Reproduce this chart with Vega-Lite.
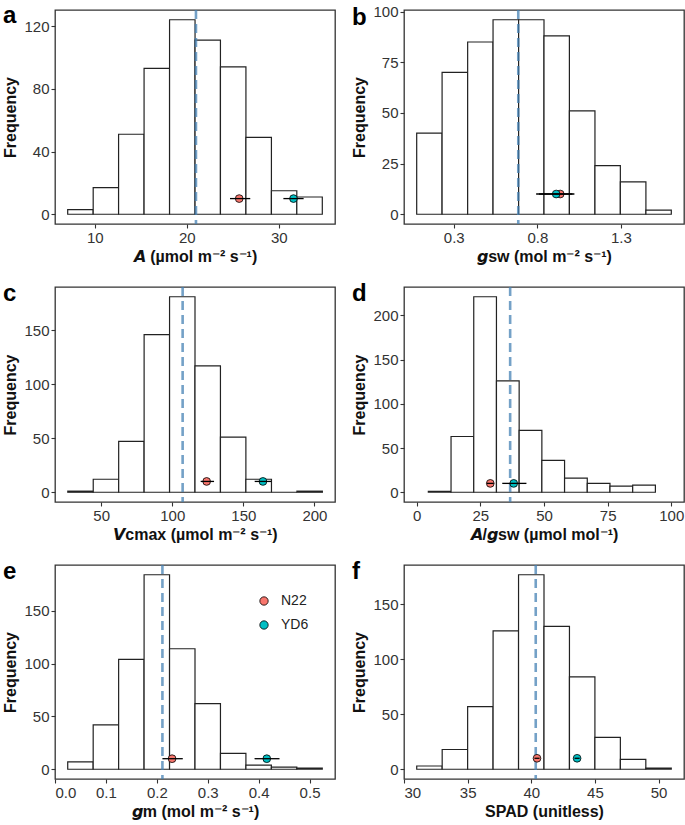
{
  "$schema": "https://vega.github.io/schema/vega-lite/v6.json",
  "padding": {"left": 2, "top": 3, "right": 0, "bottom": 0},
  "background": "white",
  "config": {
    "font": "Liberation Sans",
    "view": {"stroke": "#333333", "strokeWidth": 1.3},
    "axis": {"grid": false, "domain": false, "labelFont": "Liberation Sans", "labelFontSize": 15, "labelColor": "#333333", "tickColor": "#333333", "tickSize": 4, "tickWidth": 1.1, "labelPadding": 2, "titleFont": "Liberation Sans", "titleFontSize": 16, "titleFontWeight": "bold", "titleColor": "#111111"},
    "axisX": {"titlePadding": 3},
    "axisY": {"titlePadding": 5},
    "title": {"anchor": "start", "frame": "bounds", "fontSize": 24, "fontWeight": "bold", "font": "Liberation Sans", "color": "#000000", "baseline": "alphabetic"}
  },
  "datasets": {
    "hist": [
      {"p": "a", "x0": 7.06, "x1": 9.83, "n": 3},
      {"p": "a", "x0": 9.83, "x1": 12.59, "n": 17},
      {"p": "a", "x0": 12.59, "x1": 15.36, "n": 51},
      {"p": "a", "x0": 15.36, "x1": 18.13, "n": 93},
      {"p": "a", "x0": 18.13, "x1": 20.9, "n": 124},
      {"p": "a", "x0": 20.9, "x1": 23.66, "n": 111},
      {"p": "a", "x0": 23.66, "x1": 26.43, "n": 94},
      {"p": "a", "x0": 26.43, "x1": 29.2, "n": 49},
      {"p": "a", "x0": 29.2, "x1": 31.96, "n": 15},
      {"p": "a", "x0": 31.96, "x1": 34.73, "n": 11},
      {"p": "b", "x0": 0.078, "x1": 0.23, "n": 40},
      {"p": "b", "x0": 0.23, "x1": 0.383, "n": 70},
      {"p": "b", "x0": 0.383, "x1": 0.535, "n": 85},
      {"p": "b", "x0": 0.535, "x1": 0.688, "n": 96},
      {"p": "b", "x0": 0.688, "x1": 0.84, "n": 96},
      {"p": "b", "x0": 0.84, "x1": 0.992, "n": 88},
      {"p": "b", "x0": 0.992, "x1": 1.145, "n": 51},
      {"p": "b", "x0": 1.145, "x1": 1.297, "n": 24},
      {"p": "b", "x0": 1.297, "x1": 1.45, "n": 16},
      {"p": "b", "x0": 1.45, "x1": 1.602, "n": 2},
      {"p": "c", "x0": 26.5, "x1": 44.4, "n": 1},
      {"p": "c", "x0": 44.4, "x1": 62.3, "n": 12},
      {"p": "c", "x0": 62.3, "x1": 80.2, "n": 47},
      {"p": "c", "x0": 80.2, "x1": 98.1, "n": 146},
      {"p": "c", "x0": 98.1, "x1": 116.0, "n": 181},
      {"p": "c", "x0": 116.0, "x1": 133.9, "n": 117},
      {"p": "c", "x0": 133.9, "x1": 151.8, "n": 51},
      {"p": "c", "x0": 151.8, "x1": 169.8, "n": 12},
      {"p": "c", "x0": 169.8, "x1": 187.7, "n": 0},
      {"p": "c", "x0": 187.7, "x1": 205.6, "n": 1},
      {"p": "d", "x0": 4.56, "x1": 13.48, "n": 1},
      {"p": "d", "x0": 13.48, "x1": 22.4, "n": 63},
      {"p": "d", "x0": 22.4, "x1": 31.32, "n": 221},
      {"p": "d", "x0": 31.32, "x1": 40.24, "n": 126},
      {"p": "d", "x0": 40.24, "x1": 49.16, "n": 70},
      {"p": "d", "x0": 49.16, "x1": 58.08, "n": 36},
      {"p": "d", "x0": 58.08, "x1": 67.0, "n": 16},
      {"p": "d", "x0": 67.0, "x1": 75.92, "n": 10},
      {"p": "d", "x0": 75.92, "x1": 84.84, "n": 7},
      {"p": "d", "x0": 84.84, "x1": 93.76, "n": 8},
      {"p": "e", "x0": 0.025, "x1": 0.075, "n": 7},
      {"p": "e", "x0": 0.075, "x1": 0.125, "n": 42},
      {"p": "e", "x0": 0.125, "x1": 0.175, "n": 104},
      {"p": "e", "x0": 0.175, "x1": 0.225, "n": 184},
      {"p": "e", "x0": 0.225, "x1": 0.275, "n": 114},
      {"p": "e", "x0": 0.275, "x1": 0.325, "n": 62},
      {"p": "e", "x0": 0.325, "x1": 0.375, "n": 15},
      {"p": "e", "x0": 0.375, "x1": 0.425, "n": 4},
      {"p": "e", "x0": 0.425, "x1": 0.475, "n": 2},
      {"p": "e", "x0": 0.475, "x1": 0.525, "n": 1},
      {"p": "f", "x0": 31, "x1": 33, "n": 3},
      {"p": "f", "x0": 33, "x1": 35, "n": 18},
      {"p": "f", "x0": 35, "x1": 37, "n": 57},
      {"p": "f", "x0": 37, "x1": 39, "n": 126},
      {"p": "f", "x0": 39, "x1": 41, "n": 177},
      {"p": "f", "x0": 41, "x1": 43, "n": 130},
      {"p": "f", "x0": 43, "x1": 45, "n": 84},
      {"p": "f", "x0": 45, "x1": 47, "n": 29},
      {"p": "f", "x0": 47, "x1": 49, "n": 9},
      {"p": "f", "x0": 49, "x1": 51, "n": 1}
    ],
    "means": [
      {"p": "a", "m": 21.0},
      {"p": "b", "m": 0.686},
      {"p": "c", "m": 107.3},
      {"p": "d", "m": 36.7},
      {"p": "e", "m": 0.211},
      {"p": "f", "m": 40.35}
    ],
    "pts": [
      {"p": "a", "line": "N22", "x": 25.7, "lo": 24.7, "hi": 26.9, "y": 10},
      {"p": "a", "line": "YD6", "x": 31.6, "lo": 30.5, "hi": 32.7, "y": 10},
      {"p": "b", "line": "N22", "x": 0.937, "lo": 0.81, "hi": 1.022, "y": 10},
      {"p": "b", "line": "YD6", "x": 0.913, "lo": 0.793, "hi": 1.01, "y": 10},
      {"p": "c", "line": "N22", "x": 124.2, "lo": 120.0, "hi": 129.4, "y": 10},
      {"p": "c", "line": "YD6", "x": 163.8, "lo": 158.0, "hi": 169.7, "y": 10},
      {"p": "d", "line": "N22", "x": 28.9, "lo": 27.5, "hi": 30.3, "y": 10},
      {"p": "d", "line": "YD6", "x": 38.1, "lo": 33.6, "hi": 43.1, "y": 10},
      {"p": "e", "line": "N22", "x": 0.23, "lo": 0.211, "hi": 0.251, "y": 10},
      {"p": "e", "line": "YD6", "x": 0.416, "lo": 0.392, "hi": 0.441, "y": 10},
      {"p": "f", "line": "N22", "x": 40.45, "lo": 40.25, "hi": 40.65, "y": 10},
      {"p": "f", "line": "YD6", "x": 43.6, "lo": 43.4, "hi": 43.8, "y": 10}
    ]
  },
  "columns": 2,
  "spacing": {"row": 63, "column": 69},
  "bounds": "flush",
  "resolve": {"scale": {"fill": "independent"}, "legend": {"fill": "independent"}},
  "concat": [
    {
      "width": 280, "height": 214,
      "title": {"text": "a", "offset": -19.5},
      "layer": [
        {"data": {"name": "hist"}, "transform": [{"filter": "datum.p === 'a'"}],
         "mark": {"type": "bar", "fill": "white", "stroke": "#222222", "strokeWidth": 1.2},
         "encoding": {
           "x": {"field": "x0", "type": "quantitative", "scale": {"domain": [5.68, 36.11], "nice": false, "zero": false}, "axis": {"values": [10, 20, 30], "title": "𝘼 (µmol m⁻² s⁻¹)"}},
           "x2": {"field": "x1"},
           "y": {"field": "n", "type": "quantitative", "scale": {"domain": [-6.2, 130.2], "nice": false, "zero": false}, "axis": {"values": [0, 40, 80, 120], "title": "Frequency"}},
           "y2": {"datum": 0}}},
        {"data": {"name": "means"}, "transform": [{"filter": "datum.p === 'a'"}],
         "mark": {"type": "rule", "color": "#4682B4", "opacity": 0.75, "strokeWidth": 2.6, "strokeDash": [9, 5]},
         "encoding": {"x": {"field": "m", "type": "quantitative"}}},
        {"data": {"name": "pts"}, "transform": [{"filter": "datum.p === 'a'"}],
         "mark": {"type": "circle", "size": 60, "opacity": 1, "stroke": "black", "strokeWidth": 0.8},
         "encoding": {"x": {"field": "x", "type": "quantitative"}, "y": {"field": "y", "type": "quantitative"},
           "fill": {"field": "line", "type": "nominal", "scale": {"domain": ["N22", "YD6"], "range": ["#F8766D", "#00BFC4"]}, "legend": null}}},
        {"data": {"name": "pts"}, "transform": [{"filter": "datum.p === 'a'"}],
         "mark": {"type": "rule", "color": "black", "strokeWidth": 1.3},
         "encoding": {"x": {"field": "lo", "type": "quantitative"}, "x2": {"field": "hi"}, "y": {"field": "y", "type": "quantitative"}}}
      ]
    },
    {
      "width": 280, "height": 214,
      "title": {"text": "b", "offset": -25.5},
      "layer": [
        {"data": {"name": "hist"}, "transform": [{"filter": "datum.p === 'b'"}],
         "mark": {"type": "bar", "fill": "white", "stroke": "#222222", "strokeWidth": 1.2},
         "encoding": {
           "x": {"field": "x0", "type": "quantitative", "scale": {"domain": [0.002, 1.678], "nice": false, "zero": false}, "axis": {"values": [0.3, 0.8, 1.3], "format": ".1f", "title": "𝙜sw (mol m⁻² s⁻¹)"}},
           "x2": {"field": "x1"},
           "y": {"field": "n", "type": "quantitative", "scale": {"domain": [-4.8, 100.8], "nice": false, "zero": false}, "axis": {"values": [0, 25, 50, 75, 100], "title": "Frequency"}},
           "y2": {"datum": 0}}},
        {"data": {"name": "means"}, "transform": [{"filter": "datum.p === 'b'"}],
         "mark": {"type": "rule", "color": "#4682B4", "opacity": 0.75, "strokeWidth": 2.6, "strokeDash": [9, 5]},
         "encoding": {"x": {"field": "m", "type": "quantitative"}}},
        {"data": {"name": "pts"}, "transform": [{"filter": "datum.p === 'b'"}],
         "mark": {"type": "circle", "size": 60, "opacity": 1, "stroke": "black", "strokeWidth": 0.8},
         "encoding": {"x": {"field": "x", "type": "quantitative"}, "y": {"field": "y", "type": "quantitative"},
           "fill": {"field": "line", "type": "nominal", "scale": {"domain": ["N22", "YD6"], "range": ["#F8766D", "#00BFC4"]}, "legend": null}}},
        {"data": {"name": "pts"}, "transform": [{"filter": "datum.p === 'b'"}],
         "mark": {"type": "rule", "color": "black", "strokeWidth": 1.3},
         "encoding": {"x": {"field": "lo", "type": "quantitative"}, "x2": {"field": "hi"}, "y": {"field": "y", "type": "quantitative"}}}
      ]
    },
    {
      "width": 280, "height": 215,
      "title": {"text": "c", "offset": -20},
      "layer": [
        {"data": {"name": "hist"}, "transform": [{"filter": "datum.p === 'c'"}],
         "mark": {"type": "bar", "fill": "white", "stroke": "#222222", "strokeWidth": 1.2},
         "encoding": {
           "x": {"field": "x0", "type": "quantitative", "scale": {"domain": [17.5, 214.5], "nice": false, "zero": false}, "axis": {"values": [50, 100, 150, 200], "title": "𝙑cmax (µmol m⁻² s⁻¹)"}},
           "x2": {"field": "x1"},
           "y": {"field": "n", "type": "quantitative", "scale": {"domain": [-9.05, 190.05], "nice": false, "zero": false}, "axis": {"values": [0, 50, 100, 150], "title": "Frequency"}},
           "y2": {"datum": 0}}},
        {"data": {"name": "means"}, "transform": [{"filter": "datum.p === 'c'"}],
         "mark": {"type": "rule", "color": "#4682B4", "opacity": 0.75, "strokeWidth": 2.6, "strokeDash": [9, 5]},
         "encoding": {"x": {"field": "m", "type": "quantitative"}}},
        {"data": {"name": "pts"}, "transform": [{"filter": "datum.p === 'c'"}],
         "mark": {"type": "circle", "size": 60, "opacity": 1, "stroke": "black", "strokeWidth": 0.8},
         "encoding": {"x": {"field": "x", "type": "quantitative"}, "y": {"field": "y", "type": "quantitative"},
           "fill": {"field": "line", "type": "nominal", "scale": {"domain": ["N22", "YD6"], "range": ["#F8766D", "#00BFC4"]}, "legend": null}}},
        {"data": {"name": "pts"}, "transform": [{"filter": "datum.p === 'c'"}],
         "mark": {"type": "rule", "color": "black", "strokeWidth": 1.3},
         "encoding": {"x": {"field": "lo", "type": "quantitative"}, "x2": {"field": "hi"}, "y": {"field": "y", "type": "quantitative"}}}
      ]
    },
    {
      "width": 280, "height": 215,
      "title": {"text": "d", "offset": -20},
      "layer": [
        {"data": {"name": "hist"}, "transform": [{"filter": "datum.p === 'd'"}],
         "mark": {"type": "bar", "fill": "white", "stroke": "#222222", "strokeWidth": 1.2},
         "encoding": {
           "x": {"field": "x0", "type": "quantitative", "scale": {"domain": [-5, 105], "nice": false, "zero": false}, "axis": {"values": [0, 25, 50, 75, 100], "title": "𝘼/𝙜sw (µmol mol⁻¹)"}},
           "x2": {"field": "x1"},
           "y": {"field": "n", "type": "quantitative", "scale": {"domain": [-11.05, 232.05], "nice": false, "zero": false}, "axis": {"values": [0, 50, 100, 150, 200], "title": "Frequency"}},
           "y2": {"datum": 0}}},
        {"data": {"name": "means"}, "transform": [{"filter": "datum.p === 'd'"}],
         "mark": {"type": "rule", "color": "#4682B4", "opacity": 0.75, "strokeWidth": 2.6, "strokeDash": [9, 5]},
         "encoding": {"x": {"field": "m", "type": "quantitative"}}},
        {"data": {"name": "pts"}, "transform": [{"filter": "datum.p === 'd'"}],
         "mark": {"type": "circle", "size": 60, "opacity": 1, "stroke": "black", "strokeWidth": 0.8},
         "encoding": {"x": {"field": "x", "type": "quantitative"}, "y": {"field": "y", "type": "quantitative"},
           "fill": {"field": "line", "type": "nominal", "scale": {"domain": ["N22", "YD6"], "range": ["#F8766D", "#00BFC4"]}, "legend": null}}},
        {"data": {"name": "pts"}, "transform": [{"filter": "datum.p === 'd'"}],
         "mark": {"type": "rule", "color": "black", "strokeWidth": 1.3},
         "encoding": {"x": {"field": "lo", "type": "quantitative"}, "x2": {"field": "hi"}, "y": {"field": "y", "type": "quantitative"}}}
      ]
    },
    {
      "width": 280, "height": 214,
      "title": {"text": "e", "offset": -20},
      "layer": [
        {"data": {"name": "hist"}, "transform": [{"filter": "datum.p === 'e'"}],
         "mark": {"type": "bar", "fill": "white", "stroke": "#222222", "strokeWidth": 1.2},
         "encoding": {
           "x": {"field": "x0", "type": "quantitative", "scale": {"domain": [0, 0.55], "nice": false, "zero": false}, "axis": {"values": [0, 0.1, 0.2, 0.3, 0.4, 0.5], "format": ".1f", "title": "𝙜m (mol m⁻² s⁻¹)"}},
           "x2": {"field": "x1"},
           "y": {"field": "n", "type": "quantitative", "scale": {"domain": [-9.2, 193.2], "nice": false, "zero": false}, "axis": {"values": [0, 50, 100, 150], "title": "Frequency"}},
           "y2": {"datum": 0}}},
        {"data": {"name": "means"}, "transform": [{"filter": "datum.p === 'e'"}],
         "mark": {"type": "rule", "color": "#4682B4", "opacity": 0.75, "strokeWidth": 2.6, "strokeDash": [9, 5]},
         "encoding": {"x": {"field": "m", "type": "quantitative"}}},
        {"data": {"name": "pts"}, "transform": [{"filter": "datum.p === 'e'"}],
         "mark": {"type": "circle", "size": 60, "opacity": 1, "stroke": "black", "strokeWidth": 0.8},
         "encoding": {"x": {"field": "x", "type": "quantitative"}, "y": {"field": "y", "type": "quantitative"},
           "fill": {"field": "line", "type": "nominal", "scale": {"domain": ["N22", "YD6"], "range": ["#F8766D", "#00BFC4"]},
             "legend": {"orient": "none", "legendX": 202, "legendY": 29, "title": null, "padding": 0, "labelFont": "Liberation Sans", "labelFontSize": 14, "labelColor": "#222222", "symbolType": "circle", "symbolSize": 70, "symbolStrokeColor": "black", "symbolStrokeWidth": 0.8, "symbolOpacity": 1, "rowPadding": 10, "labelOffset": 10}}}},
        {"data": {"name": "pts"}, "transform": [{"filter": "datum.p === 'e'"}],
         "mark": {"type": "rule", "color": "black", "strokeWidth": 1.3},
         "encoding": {"x": {"field": "lo", "type": "quantitative"}, "x2": {"field": "hi"}, "y": {"field": "y", "type": "quantitative"}}}
      ]
    },
    {
      "width": 280, "height": 214,
      "title": {"text": "f", "offset": -20},
      "layer": [
        {"data": {"name": "hist"}, "transform": [{"filter": "datum.p === 'f'"}],
         "mark": {"type": "bar", "fill": "white", "stroke": "#222222", "strokeWidth": 1.2},
         "encoding": {
           "x": {"field": "x0", "type": "quantitative", "scale": {"domain": [30, 52], "nice": false, "zero": false}, "axis": {"values": [30, 35, 40, 45, 50], "title": "SPAD (unitless)"}},
           "x2": {"field": "x1"},
           "y": {"field": "n", "type": "quantitative", "scale": {"domain": [-8.85, 185.85], "nice": false, "zero": false}, "axis": {"values": [0, 50, 100, 150], "title": "Frequency"}},
           "y2": {"datum": 0}}},
        {"data": {"name": "means"}, "transform": [{"filter": "datum.p === 'f'"}],
         "mark": {"type": "rule", "color": "#4682B4", "opacity": 0.75, "strokeWidth": 2.6, "strokeDash": [9, 5]},
         "encoding": {"x": {"field": "m", "type": "quantitative"}}},
        {"data": {"name": "pts"}, "transform": [{"filter": "datum.p === 'f'"}],
         "mark": {"type": "circle", "size": 60, "opacity": 1, "stroke": "black", "strokeWidth": 0.8},
         "encoding": {"x": {"field": "x", "type": "quantitative"}, "y": {"field": "y", "type": "quantitative"},
           "fill": {"field": "line", "type": "nominal", "scale": {"domain": ["N22", "YD6"], "range": ["#F8766D", "#00BFC4"]}, "legend": null}}},
        {"data": {"name": "pts"}, "transform": [{"filter": "datum.p === 'f'"}],
         "mark": {"type": "rule", "color": "black", "strokeWidth": 1.3},
         "encoding": {"x": {"field": "lo", "type": "quantitative"}, "x2": {"field": "hi"}, "y": {"field": "y", "type": "quantitative"}}}
      ]
    }
  ]
}
